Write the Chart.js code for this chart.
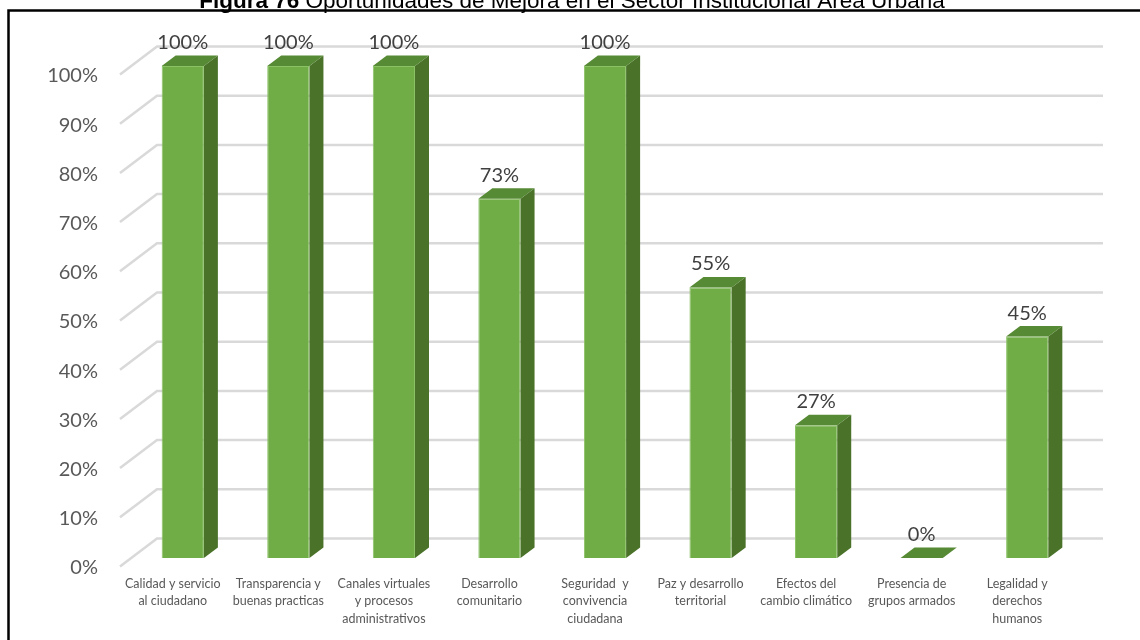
<!DOCTYPE html>
<html lang="es">
<head>
<meta charset="utf-8">
<title>Figura 76</title>
<script src="https://cdn.jsdelivr.net/npm/chart.js@4/dist/chart.umd.min.js"></script>
<style>
  html, body { margin: 0; padding: 0; background: #fff; }
  canvas { display: block; }
</style>
</head>
<body>
<canvas id="chart" width="1140" height="640"></canvas>
<script>
'use strict';

const categories = [
    ['Calidad y servicio', 'al ciudadano'],
    ['Transparencia y', 'buenas practicas'],
    ['Canales virtuales', 'y procesos', 'administrativos'],
    ['Desarrollo', 'comunitario'],
    ['Seguridad  y', 'convivencia', 'ciudadana'],
    ['Paz y desarrollo', 'territorial'],
    ['Efectos del', 'cambio climático'],
    ['Presencia de', 'grupos armados'],
    ['Legalidad y', 'derechos', 'humanos']
];
const values = [100, 100, 100, 73, 100, 55, 27, 0, 45];
const yTicks = [0, 10, 20, 30, 40, 50, 60, 70, 80, 90, 100];
const titleBold = 'Figura 76';
const titleRest = ' Oportunidades de Mejora en el Sector Institucional Área Urbana';

// 3d look
const DEPTH_X = 14, DEPTH_Y = 10.5;
const FRONT = '#70ad47', SIDE = '#4a7229', TOP = '#578a35';

const frame = {
    id: 'frame',
    beforeDraw(chart) {
        const ctx = chart.ctx;
        ctx.save();
        ctx.fillStyle = '#fff';
        ctx.fillRect(0, 0, chart.width, chart.height);

        // title, top half is cut off in the original
        const size = 22.5;
        const boldFont = `bold ${size}px "Liberation Sans", Arial, sans-serif`;
        const normFont = `${size}px "Liberation Sans", Arial, sans-serif`;
        ctx.fillStyle = '#000';
        ctx.textBaseline = 'alphabetic';
        ctx.font = boldFont;
        const wb = ctx.measureText(titleBold).width;
        ctx.font = normFont;
        const wr = ctx.measureText(titleRest).width;
        const x0 = 572 - (wb + wr) / 2;
        ctx.font = boldFont;
        ctx.fillText(titleBold, x0, 8);
        ctx.font = normFont;
        ctx.fillText(titleRest, x0 + wb, 8);

        ctx.strokeStyle = '#000';
        ctx.lineWidth = 2.5;
        ctx.beginPath();
        ctx.moveTo(8.5, chart.height);
        ctx.lineTo(8.5, 10.5);
        ctx.lineTo(chart.width, 10.5);
        ctx.stroke();
        ctx.restore();
    },
    beforeDatasetsDraw(chart) {
        const { ctx, chartArea: a } = chart;
        const ys = chart.scales.y;
        ctx.save();
        ctx.strokeStyle = '#d9d9d9';
        ctx.lineWidth = 2.5;
        yTicks.forEach(v => {
            const y = ys.getPixelForValue(v);
            ctx.beginPath();
            ctx.moveTo(a.left - 10, y + 8.5);
            ctx.lineTo(a.left + 27, y - 19.5);
            ctx.lineTo(a.right + 23, y - 19.5);
            ctx.stroke();
        });
        ctx.restore();
    },
    afterDatasetsDraw(chart) {
        const ctx = chart.ctx;
        const meta = chart.getDatasetMeta(0);
        ctx.save();
        meta.data.forEach((bar, i) => {
            const { x, y, base, width } = bar.getProps(['x', 'y', 'base', 'width'], true);
            const l = x - width / 2, r = x + width / 2;
            if (base - y > 0.5) {
                ctx.fillStyle = SIDE;
                ctx.beginPath();
                ctx.moveTo(r, y);
                ctx.lineTo(r + DEPTH_X, y - DEPTH_Y);
                ctx.lineTo(r + DEPTH_X, base - DEPTH_Y);
                ctx.lineTo(r, base);
                ctx.closePath();
                ctx.fill();
            }
            ctx.fillStyle = TOP;
            ctx.beginPath();
            ctx.moveTo(l, y);
            ctx.lineTo(l + DEPTH_X, y - DEPTH_Y);
            ctx.lineTo(r + DEPTH_X, y - DEPTH_Y);
            ctx.lineTo(r, y);
            ctx.closePath();
            ctx.fill();

            ctx.fillStyle = '#404040';
            ctx.font = '20px Lato, sans-serif';
            ctx.textAlign = 'center';
            ctx.textBaseline = 'middle';
            ctx.fillText(values[i] + '%', x, y - DEPTH_Y - 13);
        });
        ctx.restore();
    }
};

new Chart(document.getElementById('chart'), {
    type: 'bar',
    data: {
        labels: categories,
        datasets: [{
            data: values,
            backgroundColor: FRONT,
            borderColor: '#8cc266',
            borderWidth: 1,
            categoryPercentage: 1,
            barPercentage: 0.4
        }]
    },
    options: {
        responsive: false,
        animation: false,
        devicePixelRatio: 1,
        layout: { padding: { top: 66, right: 60, left: 0, bottom: 0 } },
        plugins: { legend: { display: false }, tooltip: { enabled: false } },
        scales: {
            x: {
                grid: { display: false, drawTicks: false },
                border: { display: false },
                ticks: {
                    autoSkip: false,
                    maxRotation: 0,
                    padding: 17,
                    labelOffset: -10,
                    color: '#595959',
                    font: { family: 'Lato', size: 12.5, lineHeight: 1.4 }
                },
                afterFit: s => { s.height = 82; }
            },
            y: {
                min: 0,
                max: 100,
                grid: { display: false, drawTicks: false },
                border: { display: false },
                ticks: {
                    stepSize: 10,
                    padding: 32,
                    labelOffset: 10,
                    color: '#595959',
                    font: { family: 'Lato', size: 20 },
                    callback: v => v + '%'
                },
                afterFit: s => { s.width = 130; }
            }
        }
    },
    plugins: [frame]
});
</script>
</body>
</html>
